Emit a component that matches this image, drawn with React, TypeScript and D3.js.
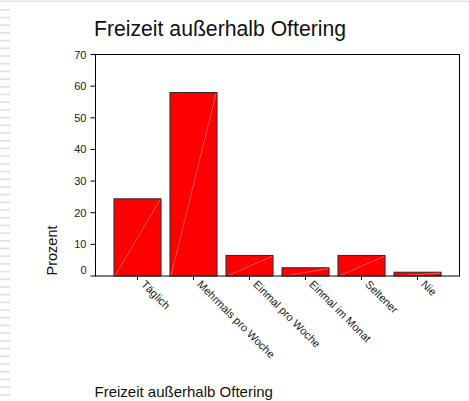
import React from "react";
import * as d3 from "d3";

const categories = ["Täglich", "Mehrmals pro Woche", "Einmal pro Woche", "Einmal im Monat", "Seltener", "Nie"];
const percents = [24.4, 58.0, 6.5, 2.6, 6.5, 1.2];
const yTicks = [0, 10, 20, 30, 40, 50, 60, 70];
const title = "Freizeit außerhalb Oftering";
const xTitle = "Freizeit außerhalb Oftering";
const yTitle = "Prozent";

const W = 469;
const H = 401;
const left = 95.5;
const right = 459.5;
const top = 54.5;
const bottom = 276;
const font = "'Liberation Sans', Arial, sans-serif";

export default function App() {
  const x = d3.scaleBand<string>().domain(categories).range([left, right]).paddingInner(0.16).paddingOuter(0.33);
  const y = d3.scaleLinear().domain([0, 70]).range([bottom, top]);
  const dashes = d3.range(9, H, 7.7);

  return (
    <svg width={W} height={H} style={{ position: "absolute", left: 0, top: 0, background: "#fff" }} fontFamily={font}>
      <rect x={0} y={0.5} width={W} height={1.5} fill="#e0e0e0" />
      {dashes.map((d, i) => (
        <rect key={i} x={0} y={d} width={10} height={1.6} fill="#e0e0e0" />
      ))}
      <text x={94} y={35.5} fontSize={21.2} fill="#111">{title}</text>

      {categories.map((c, i) => {
        const bx = x(c)!;
        const bw = x.bandwidth();
        const by = y(percents[i]);
        return (
          <g key={c}>
            <rect x={bx} y={by} width={bw} height={bottom - by} fill="#ff0000" stroke="#2a2a2a" strokeWidth={1} />
            <line x1={bx + 1} y1={bottom} x2={bx + bw - 1} y2={by + 1} stroke="#ff8a8a" strokeWidth={0.6} />
          </g>
        );
      })}

      <rect x={left} y={top} width={right - left} height={bottom - top} fill="none" stroke="#000" strokeWidth={1} />

      {yTicks.map((t) => (
        <g key={t}>
          <line x1={left - 5} x2={left} y1={y(t)} y2={y(t)} stroke="#000" strokeWidth={1} />
          <text x={86.5} y={y(t) + (t === 0 ? -2.5 : 4)} fontSize={11} textAnchor="end" fill="#222">{t}</text>
        </g>
      ))}

      {categories.map((c) => {
        const cx = x(c)! + x.bandwidth() / 2;
        return (
          <g key={c}>
            <line x1={cx} x2={cx} y1={bottom} y2={bottom + 4} stroke="#000" strokeWidth={1} />
            <text transform={`translate(${cx + 3},${bottom + 9}) rotate(45)`} fontSize={11} fill="#222">{c}</text>
          </g>
        );
      })}

      <text transform={`translate(56.5,${250.5}) rotate(-90)`} fontSize={14.5} textAnchor="middle" fill="#111">{yTitle}</text>
      <text x={94.5} y={397} fontSize={15} fill="#111">{xTitle}</text>
    </svg>
  );
}
